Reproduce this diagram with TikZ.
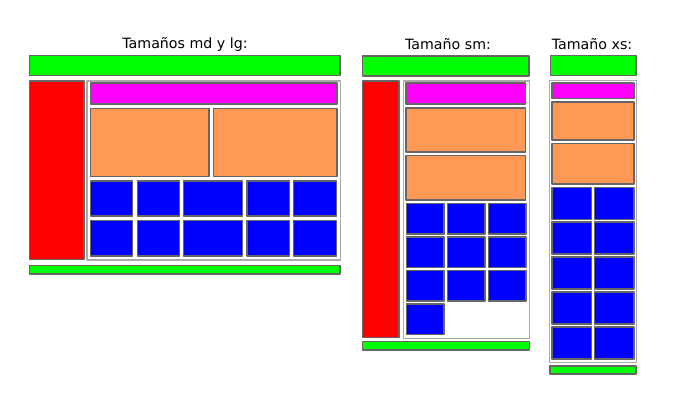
\documentclass[tikz,border=0pt]{standalone}
\usepackage{fontspec}
\setmainfont{DejaVu Sans}
\definecolor{naranja}{HTML}{FF9955}
\definecolor{rosa}{HTML}{FF00FF}
\definecolor{verde}{HTML}{00FF00}
\definecolor{borde}{HTML}{666666}
\definecolor{marco}{HTML}{AAAAAA}

\begin{document}
\begin{tikzpicture}[
        x = 1pt, y = -1pt,
        line join=round,
        caja/.style = {draw=borde, line width=1.2pt},
        barra/.style = {caja, fill=verde},
        lateral/.style = {caja, fill=red},
        cabecera/.style = {caja, fill=rosa},
        bloque/.style = {caja, fill=naranja},
        celda/.style = {caja, fill=blue},
        contenedor/.style = {draw=marco, line width=1.3pt, fill=white},
        titulo/.style = {font=\fontsize{14.2}{17}\selectfont, inner sep=0pt}
    ]
        \useasboundingbox (0,0) rectangle (683,407);

        % md y lg
        \node[titulo] (t1) at (185,44) {Tamaños md y lg:};
        \draw[barra] (29.5,55.5) rectangle (340,75.5);
        \draw[lateral] (29.5,81) rectangle (84,259.5);
        \draw[contenedor] (87,81) rectangle (340.5,260);
        \draw[cabecera] (90.5,83) rectangle (337,104);
        \draw[bloque] (90.5,108.5) rectangle (209,176.5);
        \draw[bloque] (213.5,108.5) rectangle (337,176.5);
        \draw[celda] (90.5,181) rectangle (132.5,216);
        \draw[celda] (137.5,181) rectangle (179.5,216);
        \draw[celda] (183.5,181) rectangle (242.5,216);
        \draw[celda] (247,181) rectangle (289.5,216);
        \draw[celda] (293.5,181) rectangle (336.5,216);
        \draw[celda] (90.5,220.5) rectangle (132.5,256);
        \draw[celda] (137.5,220.5) rectangle (179.5,256);
        \draw[celda] (183.5,220.5) rectangle (242.5,256);
        \draw[celda] (247,220.5) rectangle (289.5,256);
        \draw[celda] (293.5,220.5) rectangle (336.5,256);
        \draw[barra] (29.5,265.5) rectangle (340,274);

        % sm
        \node[titulo] (t2) at (448,44) {Tamaño sm:};
        \draw[barra] (362.5,56) rectangle (529,76);
        \draw[lateral] (362.5,81) rectangle (399,337.5);
        \draw[contenedor] (403.5,81) rectangle (529.5,338.5);
        \draw[cabecera] (406,83) rectangle (525.5,104);
        \draw[bloque] (406,108) rectangle (525.5,152);
        \draw[bloque] (406,155.5) rectangle (525.5,200);
        \draw[celda] (406.5,203.5) rectangle (444,234);
        \draw[celda] (447.5,203.5) rectangle (485,234);
        \draw[celda] (488.5,203.5) rectangle (526,234);
        \draw[celda] (406.5,237) rectangle (444,267.5);
        \draw[celda] (447.5,237) rectangle (485,267.5);
        \draw[celda] (488.5,237) rectangle (526,267.5);
        \draw[celda] (406.5,270.5) rectangle (444,301);
        \draw[celda] (447.5,270.5) rectangle (485,301);
        \draw[celda] (488.5,270.5) rectangle (526,301);
        \draw[celda] (406.5,304) rectangle (444,334.5);
        \draw[barra] (362.5,341.5) rectangle (529.5,350);

        % xs
        \node[titulo] (t3) at (592,44) {Tamaño xs:};
        \draw[barra] (550.5,55.5) rectangle (636,75.5);
        \draw[contenedor] (549.5,80.5) rectangle (636.5,362.5);
        \draw[cabecera] (552,83) rectangle (634,98.5);
        \draw[bloque] (552,102) rectangle (634,140);
        \draw[bloque] (552,143.5) rectangle (634,184);
        \draw[celda] (552,187.5) rectangle (591.5,219.5);
        \draw[celda] (594.5,187.5) rectangle (634,219.5);
        \draw[celda] (552,222) rectangle (591.5,254);
        \draw[celda] (594.5,222) rectangle (634,254);
        \draw[celda] (552,257) rectangle (591.5,289);
        \draw[celda] (594.5,257) rectangle (634,289);
        \draw[celda] (552,292) rectangle (591.5,324);
        \draw[celda] (594.5,292) rectangle (634,324);
        \draw[celda] (552,327) rectangle (591.5,359);
        \draw[celda] (594.5,327) rectangle (634,359);
        \draw[barra] (550,366) rectangle (636,374);

    \end{tikzpicture}
\end{document}
